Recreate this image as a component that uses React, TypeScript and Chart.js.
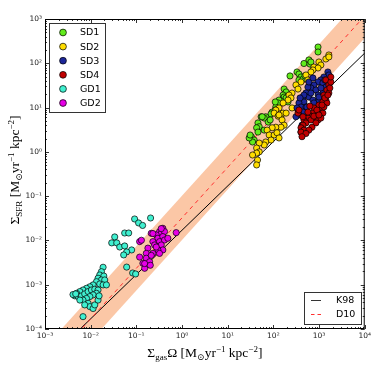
import React, { useEffect, useRef } from 'react';
import { Chart, registerables } from 'chart.js';
Chart.register(...registerables);

// ---- axis ticks ----
const X_TICKS = [1e-3, 1e-2, 1e-1, 1, 10, 100, 1e3, 1e4];
const Y_TICKS = [1e-4, 1e-3, 1e-2, 1e-1, 1, 10, 100, 1e3];

// ---- data: [Sigma_gas*Omega, Sigma_SFR] ----
const SD1: [number, number][] = [
  [950, 233], [950, 180], [467, 99], [600, 119], [630, 96], [329, 63.6], [363, 57.3], [402, 49], [363, 42],
  [444, 43.7], [491, 51.8], [231, 51.8], [172, 26.2], [190, 22.5], [163, 19.2], [172, 17.3], [190, 16.5],
  [147, 14.1], [209, 13.4], [133, 14.8], [127, 12.7], [113, 10.3], [110, 13.4], [110, 8.8], [94, 7.9],
  [89, 7.2], [68, 6.2], [63, 5.8], [54, 6.2], [77, 4.7], [46, 4.5], [49, 3.7], [43, 3.5], [63, 3.1],
  [46, 2.8], [33, 2.2], [38, 1.85], [35, 1.67], [29.5, 2.06], [31, 2.4], [57, 6.2], [85, 5.25], [664, 107],
];
const SD2: [number, number][] = [
  [1639, 154], [1410, 125], [1639, 139], [993, 107], [1097, 91.5], [772, 82.5], [950, 78.3], [734, 70.6],
  [664, 63.6], [517, 54.4], [570, 42], [402, 37.8], [312, 32.4], [346, 26.2], [256, 21.3], [220, 19.2],
  [243, 16.5], [209, 14.8], [163, 12.7], [133, 9.8], [113, 8.8], [104, 7.5], [147, 6.8], [127, 6.4],
  [163, 7.5], [133, 6.8], [155, 5.25], [172, 4.0], [147, 3.6], [113, 3.6], [94, 3.5], [73, 3.1], [81, 2.4],
  [104, 2.4], [120, 2.7], [133, 2.06], [89, 1.85], [68, 1.67], [63, 1.43], [49, 1.58], [43, 1.22], [49, 1.0],
  [43, 0.94], [35, 0.85], [45, 0.655], [43, 0.506], [190, 7.5], [256, 9.8],
];
const SD3: [number, number][] = [
  [1560, 63.6], [1639, 54.4], [1276, 49], [1097, 42], [950, 37.8], [1213, 36], [772, 32.4], [664, 27.7],
  [570, 29], [853, 24.9], [517, 21.4], [444, 17.3], [600, 17.3], [734, 14.8], [467, 13.4], [363, 12.7],
  [402, 10.3], [517, 10.3], [346, 8.8], [444, 7.9], [853, 10.3], [993, 14.8], [1213, 21.3], [1410, 29],
  [950, 19.2], [363, 6.8], [312, 6.2], [423, 4.0], [402, 2.8], [517, 5.8], [543, 10.3], [772, 12.7],
  [993, 17.3], [664, 21.3], [1097, 27.7], [1340, 42], [600, 37.8], [734, 46.6], [467, 19.2], [384, 16.5],
  [329, 9.8],
];
const SD4: [number, number][] = [
  [1410, 42], [1639, 32.4], [1482, 24.9], [1639, 21.3], [1276, 19.2], [1410, 14.8], [1213, 13.4], [1482, 12.7],
  [993, 11.4], [1097, 8.8], [950, 7.9], [772, 9.8], [734, 7.5], [853, 6.0], [600, 6.8], [570, 5.8], [664, 5.25],
  [467, 5.25], [517, 4.5], [444, 4.0], [402, 3.5], [467, 3.1], [402, 2.8], [346, 7.5], [363, 8.8], [950, 5.25],
  [1213, 7.5], [1276, 10.3], [1725, 27.7], [1811, 37.8], [570, 7.9], [444, 6.2], [1811, 49], [1097, 5.8],
  [853, 4.5], [700, 3.6], [600, 3.1], [517, 2.6], [423, 2.2], [897, 8.8], [772, 6.4], [993, 6.8], [1340, 16.5],
  [1560, 19.2], [1160, 11.4], [630, 10.8],
];
const GD1: [number, number][] = [
  [0.0187, 0.00248], [0.0172, 0.00197], [0.0158, 0.00166], [0.0194, 0.00157], [0.0145, 0.0014], [0.0172, 0.00128],
  [0.0203, 0.00128], [0.0134, 0.00117], [0.0158, 0.00104], [0.0187, 0.00099], [0.0221, 0.00099], [0.0113, 0.00099],
  [0.0096, 0.0009], [0.0081, 0.00083], [0.0068, 0.00076], [0.0058, 0.0007], [0.0049, 0.00064], [0.0045, 0.00056],
  [0.0053, 0.00054], [0.0063, 0.00056], [0.0074, 0.00062], [0.0088, 0.0007], [0.0104, 0.00076], [0.0123, 0.00079],
  [0.0145, 0.00076], [0.0134, 0.00064], [0.0113, 0.00059], [0.0096, 0.00054], [0.0081, 0.00049], [0.0068, 0.00045],
  [0.0088, 0.00038], [0.0096, 0.00032], [0.0113, 0.00029], [0.0123, 0.00035], [0.0145, 0.00045], [0.0153, 0.00056],
  [0.0058, 0.00045], [0.0074, 0.00035], [0.0068, 0.00019], [0.0041, 0.0006], [0.0047, 0.00062],
  [0.0916, 0.0305], [0.112, 0.0248], [0.137, 0.0218], [0.205, 0.0321], [0.0336, 0.012], [0.0289, 0.0088],
  [0.0372, 0.0088], [0.0555, 0.0147], [0.068, 0.0147], [0.0432, 0.0071], [0.0555, 0.0075], [0.0789, 0.0061],
  [0.0614, 0.0055], [0.0528, 0.0047], [0.0614, 0.0025], [0.083, 0.00184], [0.0964, 0.00175],
];
const GD2: [number, number][] = [
  [0.212, 0.0145], [0.38, 0.0188], [0.322, 0.0158], [0.351, 0.0145], [0.414, 0.0158], [0.273, 0.0133],
  [0.296, 0.0112], [0.38, 0.0122], [0.23, 0.0094], [0.322, 0.0094], [0.414, 0.0102], [0.489, 0.0112],
  [0.745, 0.015], [0.118, 0.0094], [0.251, 0.0079], [0.296, 0.0072], [0.351, 0.0079], [0.38, 0.0061],
  [0.296, 0.0061], [0.179, 0.0067], [0.165, 0.0051], [0.23, 0.0051], [0.322, 0.0051], [0.165, 0.00396],
  [0.195, 0.0033], [0.139, 0.00305], [0.152, 0.00235], [0.129, 0.0101], [0.118, 0.0042], [0.152, 0.003],
  [0.202, 0.00275], [0.23, 0.0143], [0.351, 0.0185], [0.273, 0.0071], [0.212, 0.0046],
];

const SERIES_LABELS = ['SD1', 'SD2', 'SD3', 'SD4', 'GD1', 'GD2'];
const SERIES_DATA = [SD1, SD2, SD3, SD4, GD1, GD2];
const SERIES_COLORS = ['#62ec1c', '#ffdd00', '#1c2699', '#c00000', '#40f0d0', '#e600e6'];

// ---- relations ----
const LINE_X = [1e-3, 1e4];
const K98_COEF = 0.017; // Sigma_SFR = 0.017 Sigma_gas Omega
const D10_LOG_A = -1.49;
const D10_SLOPE = 1.14;
const BAND_DEX = 0.5;
const LINE_LABELS = ['K98', 'D10'];

const SUP: Record<string, string> = {
  '-': '\u207B', '0': '\u2070', '1': '\u00B9', '2': '\u00B2', '3': '\u00B3', '4': '\u2074',
  '5': '\u2075', '6': '\u2076', '7': '\u2077', '8': '\u2078', '9': '\u2079',
};
const powLabel = (v: number) => {
  const e = Math.round(Math.log10(v));
  return '10' + String(e).split('').map((c) => SUP[c]).join('');
};

type Seg = { t: string; size: number; dy: number };
const SERIF = '"Liberation Serif", "DejaVu Serif", serif';
function drawRich(ctx: CanvasRenderingContext2D, segs: Seg[], x: number, y: number, rot: number) {
  ctx.save();
  ctx.translate(x, y);
  ctx.rotate(rot);
  ctx.fillStyle = '#000';
  ctx.textBaseline = 'alphabetic';
  let total = 0;
  const widths = segs.map((s) => {
    ctx.font = `${s.size}px ${SERIF}`;
    const w = ctx.measureText(s.t).width;
    total += w;
    return w;
  });
  let cx = -total / 2;
  segs.forEach((s, i) => {
    ctx.font = `${s.size}px ${SERIF}`;
    ctx.fillText(s.t, cx, s.dy);
    cx += widths[i];
  });
  ctx.restore();
}

const BIG = 13.5;
const SMALL = 9;
const unitSegs = (): Seg[] => [
  { t: ' [M', size: BIG, dy: 0 },
  { t: '\u2299', size: SMALL, dy: 3 },
  { t: 'yr', size: BIG, dy: 0 },
  { t: '\u22121', size: SMALL, dy: -5.5 },
  { t: ' kpc', size: BIG, dy: 0 },
  { t: '\u22122', size: SMALL, dy: -5.5 },
  { t: ']', size: BIG, dy: 0 },
];

const decorPlugin = {
  id: 'decor',
  afterDatasetsDraw(chart: any) {
    const { ctx, chartArea: a, scales } = chart;
    ctx.save();
    ctx.lineWidth = 1;
    const minorsOf = (ticks: number[]) => {
      const out: number[] = [];
      for (let i = 0; i < ticks.length - 1; i++) for (let m = 2; m <= 9; m++) out.push(ticks[i] * m);
      return out;
    };
    const xs = scales.x, ys = scales.y;
    const drawXT = (v: number, len: number) => {
      const p = Math.round(xs.getPixelForValue(v)) + 0.5;
      ctx.beginPath();
      ctx.moveTo(p, a.bottom); ctx.lineTo(p, a.bottom - len);
      ctx.moveTo(p, a.top); ctx.lineTo(p, a.top + len);
      ctx.stroke();
    };
    const drawYT = (v: number, len: number) => {
      const p = Math.round(ys.getPixelForValue(v)) + 0.5;
      ctx.beginPath();
      ctx.moveTo(a.left, p); ctx.lineTo(a.left + len, p);
      ctx.moveTo(a.right, p); ctx.lineTo(a.right - len, p);
      ctx.stroke();
    };
    ctx.strokeStyle = '#333';
    X_TICKS.forEach((v) => drawXT(v, 4));
    minorsOf(X_TICKS).forEach((v) => drawXT(v, 2));
    Y_TICKS.forEach((v) => drawYT(v, 4));
    minorsOf(Y_TICKS).forEach((v) => drawYT(v, 2));
    ctx.strokeStyle = '#000';
    ctx.strokeRect(a.left + 0.5, a.top + 0.5, a.right - a.left - 1, a.bottom - a.top - 1);
    ctx.restore();
  },
  afterDraw(chart: any) {
    const { ctx, chartArea: a } = chart;
    drawRich(ctx, [
      { t: '\u03A3', size: BIG, dy: 0 },
      { t: 'gas', size: SMALL, dy: 3 },
      { t: '\u03A9', size: BIG, dy: 0 },
      ...unitSegs(),
    ], (a.left + a.right) / 2, 357, 0);
    drawRich(ctx, [
      { t: '\u03A3', size: BIG, dy: 0 },
      { t: 'SFR', size: SMALL, dy: 3 },
      ...unitSegs(),
    ], 19, (a.top + a.bottom) / 2 - 4, -Math.PI / 2);

    // legend 1
    ctx.save();
    ctx.fillStyle = '#fff';
    ctx.fillRect(49, 23, 56, 89);
    ctx.strokeStyle = '#333';
    ctx.lineWidth = 1;
    ctx.strokeRect(49.5, 23.5, 56, 89);
    ctx.font = '9.5px "DejaVu Sans", sans-serif';
    ctx.textBaseline = 'middle';
    SERIES_LABELS.forEach((lab, i) => {
      const y = 32.5 + i * 14.1;
      ctx.beginPath();
      ctx.arc(63, y, 3.4, 0, Math.PI * 2);
      ctx.fillStyle = SERIES_COLORS[i];
      ctx.fill();
      ctx.lineWidth = 0.7;
      ctx.strokeStyle = '#000';
      ctx.stroke();
      ctx.fillStyle = '#000';
      ctx.fillText(lab, 80, y + 0.5);
    });
    // legend 2
    ctx.fillStyle = '#fff';
    ctx.fillRect(304, 292, 57, 32);
    ctx.strokeStyle = '#333';
    ctx.lineWidth = 1;
    ctx.strokeRect(304.5, 292.5, 57, 32);
    ctx.beginPath();
    ctx.strokeStyle = '#000';
    ctx.lineWidth = 0.8;
    ctx.moveTo(311, 300.5); ctx.lineTo(321, 300.5);
    ctx.stroke();
    ctx.beginPath();
    ctx.strokeStyle = '#ff3030';
    ctx.lineWidth = 1;
    ctx.setLineDash([3.5, 3]);
    ctx.moveTo(311, 314.5); ctx.lineTo(322, 314.5);
    ctx.stroke();
    ctx.setLineDash([]);
    ctx.fillStyle = '#000';
    ctx.fillText(LINE_LABELS[0], 336, 301);
    ctx.fillText(LINE_LABELS[1], 336, 315);
    ctx.restore();
  },
};

export default function App() {
  const ref = useRef<HTMLCanvasElement | null>(null);
  useEffect(() => {
    if (!ref.current) return;
    const d10 = (x: number) => Math.pow(10, D10_LOG_A + D10_SLOPE * Math.log10(x));
    const pts = (data: [number, number][]) => data.map(([x, y]) => ({ x, y }));
    const scatterSets = SERIES_DATA.map((data, i) => ({
      type: 'scatter',
      label: SERIES_LABELS[i],
      data: pts(data),
      backgroundColor: SERIES_COLORS[i],
      borderColor: '#000',
      borderWidth: 0.7,
      pointRadius: 3.1,
      order: 10 - i,
    }));
    const chart = new Chart(ref.current, {
      type: 'scatter',
      data: {
        datasets: [
          {
            type: 'line', label: 'band-up', data: LINE_X.map((x) => ({ x, y: d10(x) * Math.pow(10, BAND_DEX) })),
            borderWidth: 0, pointRadius: 0, fill: '+1', backgroundColor: 'rgb(251,199,166)', borderColor: 'rgba(0,0,0,0)', order: 100,
          },
          {
            type: 'line', label: 'band-low', data: LINE_X.map((x) => ({ x, y: d10(x) / Math.pow(10, BAND_DEX) })),
            borderWidth: 0, pointRadius: 0, fill: false, borderColor: 'rgba(0,0,0,0)', order: 99,
          },
          {
            type: 'line', label: LINE_LABELS[0], data: LINE_X.map((x) => ({ x, y: K98_COEF * x })),
            borderWidth: 1, pointRadius: 0, borderColor: '#000', fill: false, order: 50,
          },
          {
            type: 'line', label: LINE_LABELS[1], data: LINE_X.map((x) => ({ x, y: d10(x) })),
            borderWidth: 1, pointRadius: 0, borderColor: '#ff3030', borderDash: [4, 4], fill: false, order: 49,
          },
          ...scatterSets,
        ] as any,
      },
      options: {
        responsive: false,
        animation: false,
        events: [],
        layout: { padding: { top: 19, right: 8, left: 0, bottom: 0 } },
        plugins: { legend: { display: false }, tooltip: { enabled: false } },
        scales: {
          x: {
            type: 'logarithmic', min: 1e-3, max: 1e4,
            grid: { display: false, drawTicks: false }, border: { display: false },
            afterBuildTicks: (s: any) => { s.ticks = X_TICKS.map((v) => ({ value: v, major: true })); },
            afterFit: (s: any) => { s.height = 45; },
            ticks: {
              autoSkip: false, maxRotation: 0, padding: 3, color: '#222',
              font: { family: '"DejaVu Sans", sans-serif', size: 7.5 },
              callback: (v: any) => powLabel(Number(v)),
            },
          },
          y: {
            type: 'logarithmic', min: 1e-4, max: 1e3,
            grid: { display: false, drawTicks: false }, border: { display: false },
            afterBuildTicks: (s: any) => { s.ticks = Y_TICKS.map((v) => ({ value: v, major: true })); },
            afterFit: (s: any) => { s.width = 45; },
            ticks: {
              autoSkip: false, padding: 3, color: '#222',
              font: { family: '"DejaVu Sans", sans-serif', size: 7.5 },
              callback: (v: any) => powLabel(Number(v)),
            },
          },
        },
      } as any,
      plugins: [decorPlugin],
    });
    return () => chart.destroy();
  }, []);
  return (
    <div style={{ position: 'fixed', left: 0, top: 0, width: 374, height: 374, background: '#fff' }}>
      <canvas ref={ref} width={374} height={374} style={{ display: 'block' }} />
    </div>
  );
}
